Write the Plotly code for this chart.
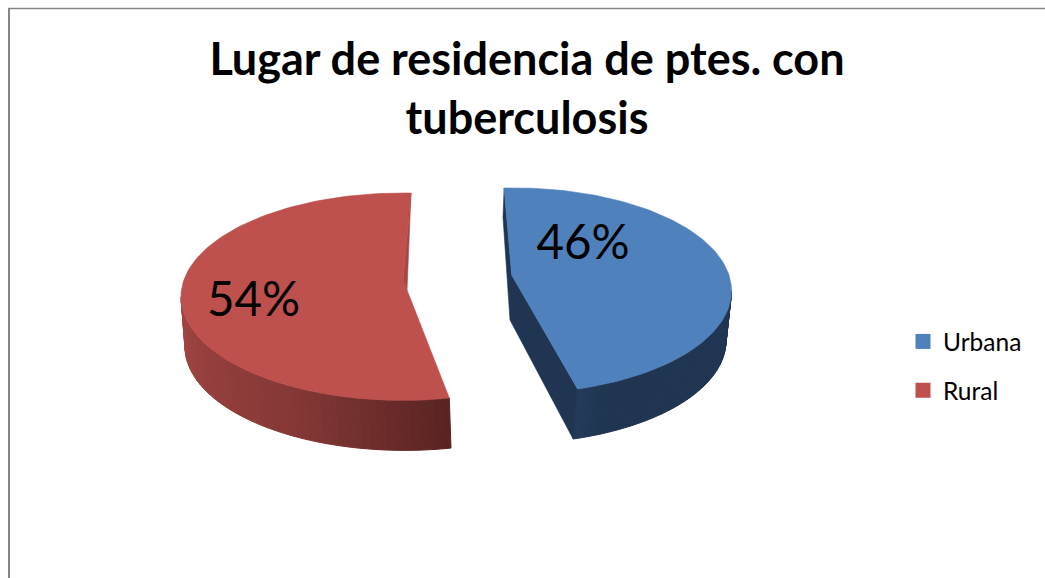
import math
import plotly.graph_objects as go

# ---- data ----
categories = ["Urbana", "Rural"]
percent = [46, 54]
chart_title = "Lugar de residencia de ptes. con<br>tuberculosis"

# ---- style ----
TOP = ["#4F81BD", "#BE504D"]
SIDE_STOPS = [
    [(0.0, "#1F3552"), (0.9, "#1F3552"), (1.0, "#233B5A")],
    [(0.0, "#A24543"), (0.6, "#843836"), (1.0, "#582321")],
]
CUT = ["#1F3552", "#A44745"]
LABEL_POS = [(583, 247), (253.5, 304)]
FONT = "Lato"
W, H = 1045, 578

# projected geometry of each exploded slice (pixel space of the axes)
GEOM = [
    dict(start=-2.6, top=(514, 290.7, 217.5, 102.8), bot=(510, 340.7, 216, 102.8)),
    dict(start=167.8, top=(402.5, 296.7, 221.5, 103.7), bot=(404.6, 346.7, 219.6, 103.7)),
]
BLUE_CUT = dict(knee=(503, 217), apex_top=(511.7, 275), apex_bot=(510, 320))
RED_CUT = dict(apex=(403, 281), notch=(407, 290))


def ell(e, deg):
    cx, cy, a, b = e
    t = math.radians(deg)
    return cx + a * math.sin(t), cy - b * math.cos(t)


def arc(e, a0, a1, n=120):
    return [ell(e, a0 + (a1 - a0) * i / n) for i in range(n + 1)]


def hex2rgb(h):
    return tuple(int(h[i:i + 2], 16) for i in (1, 3, 5))


def mix(stops, f):
    for (f0, c0), (f1, c1) in zip(stops, stops[1:]):
        if f <= f1:
            u = (f - f0) / (f1 - f0)
            a, b = hex2rgb(c0), hex2rgb(c1)
            return "rgb(%d,%d,%d)" % tuple(round(a[k] + (b[k] - a[k]) * u) for k in range(3))
    return stops[-1][1]


def poly(pts, color, lw=0.6):
    xs = [p[0] for p in pts] + [pts[0][0]]
    ys = [p[1] for p in pts] + [pts[0][1]]
    return go.Scatter(x=xs, y=ys, mode="lines", fill="toself", fillcolor=color,
                      line=dict(color=color, width=lw), hoverinfo="skip", showlegend=False)


fig = go.Figure()
sweeps = [p / sum(percent) * 360 for p in percent]
ends = [GEOM[i]["start"] + sweeps[i] for i in range(2)]

# curved outer walls (sliced in thin bands for the shading)
wall_spans = [(90, ends[0]), (GEOM[1]["start"], 270)]
for i, g in enumerate(GEOM):
    lo, hi = wall_spans[i]
    n = 48
    for k in range(n):
        u0 = lo + (hi - lo) * k / n
        u1 = lo + (hi - lo) * (k + 1) / n
        f = (k + 0.5) / n
        if i == 1:
            f = 1 - f  # shade runs from the left rim to the cut on the right
        q = [ell(g["top"], u0), ell(g["top"], u1), ell(g["bot"], u1), ell(g["bot"], u0)]
        fig.add_trace(poly(q, mix(SIDE_STOPS[i], f), lw=1.0))

# flat cut faces
g = GEOM[0]
fig.add_trace(poly([ell(g["top"], g["start"]), BLUE_CUT["knee"], BLUE_CUT["apex_bot"],
                    ell(g["bot"], ends[0]), ell(g["top"], ends[0]), BLUE_CUT["apex_top"]], CUT[0]))
g = GEOM[1]
fig.add_trace(poly([ell(g["top"], ends[1]), RED_CUT["notch"], RED_CUT["apex"]], CUT[1]))

# top faces
g = GEOM[0]
fig.add_trace(poly(arc(g["top"], g["start"], ends[0]) + [BLUE_CUT["apex_top"]], TOP[0]))
g = GEOM[1]
fig.add_trace(poly(arc(g["top"], g["start"], ends[1]) + [RED_CUT["apex"], RED_CUT["notch"]], TOP[1]))

# percentage labels
fig.add_trace(go.Scatter(x=[p[0] for p in LABEL_POS], y=[p[1] for p in LABEL_POS],
                         mode="text", text=[f"{v}%" for v in percent],
                         textposition="middle center",
                         textfont=dict(family=FONT, size=47.5, color="#000000"),
                         hoverinfo="skip", showlegend=False))

# legend
for i, name in enumerate(categories):
    fig.add_trace(go.Scatter(x=[None], y=[None], mode="markers", name=name,
                             legendgroup=name,
                             marker=dict(symbol="square", size=15, color=TOP[i])))

fig.update_layout(
    width=W, height=H,
    margin=dict(l=0, r=0, t=0, b=0),
    paper_bgcolor="#FFFFFF", plot_bgcolor="#FFFFFF",
    xaxis=dict(range=[0, W], visible=False, fixedrange=True),
    yaxis=dict(range=[H, 0], visible=False, fixedrange=True),
    title=dict(text="<b>" + chart_title.replace("<br>", "</b><br><b>") + "</b>",
               x=527 / W, xanchor="center", y=1 - 75 / H, yanchor="top",
               font=dict(family=FONT, size=45, color="#000000")),
    legend=dict(x=903 / W, y=1 - 319 / H, xanchor="left", yanchor="top",
                font=dict(family=FONT, size=24.5, color="#000000"),
                tracegroupgap=14, bgcolor="rgba(0,0,0,0)"),
    shapes=[
        dict(type="line", x0=9, x1=9, y0=8, y1=H, line=dict(color="#868686", width=2)),
        dict(type="line", x0=8, x1=W, y0=8.5, y1=8.5, line=dict(color="#868686", width=1.5)),
    ],
)

fig.write_html("out.html", config={"displayModeBar": False},
               post_script="document.body.style.margin='0';")
